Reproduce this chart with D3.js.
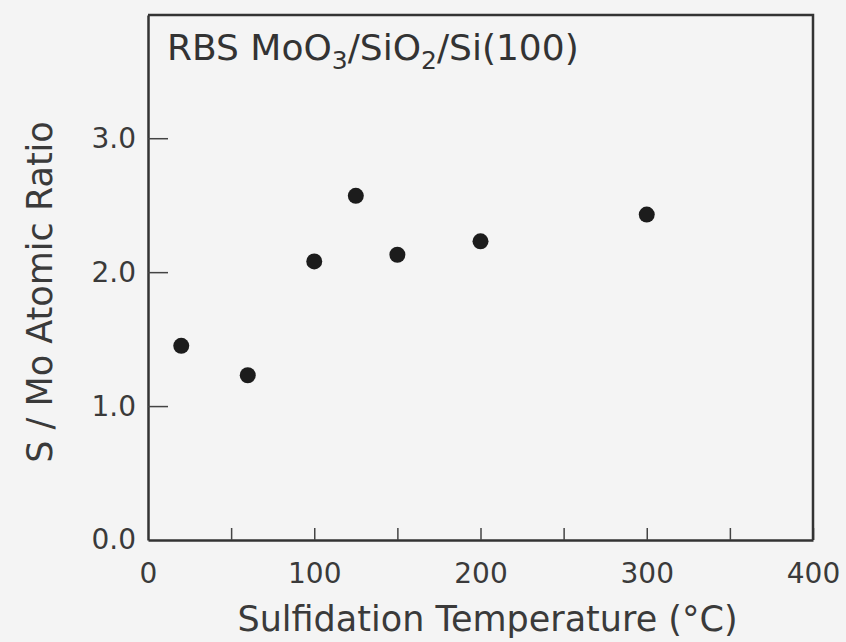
<!DOCTYPE html>
<html>
<head>
<meta charset="utf-8">
<script src="https://cdn.jsdelivr.net/npm/d3@7"></script>
<style>
  html, body { margin: 0; padding: 0; background: #f4f4f4; }
  svg { display: block; font-family: "DejaVu Sans", Verdana, sans-serif; }
</style>
</head>
<body>
<script>
// sulfidation temperature (°C) and S/Mo ratio
const temperatures = [20, 60, 100, 125, 150, 200, 300];
const ratios = [1.45, 1.23, 2.08, 2.57, 2.13, 2.23, 2.43];

const xTicks = [0, 50, 100, 150, 200, 250, 300, 350, 400];
const xLabels = [0, 100, 200, 300, 400];
const yTicks = [0, 1, 2, 3];

let width = 846, height = 642;
let margin = {top: 15, left: 148, right: 33, bottom: 102};
let svg, x, y;

setupSvg();
setupScales();
appendAxes();
appendFrame();
appendPoints();
appendLabels();

function setupSvg() {
  svg = d3.select("body").append("svg")
    .attr("width", width)
    .attr("height", height);
  svg.append("rect")
    .attr("width", width).attr("height", height)
    .attr("fill", "#f4f4f4");
}

function setupScales() {
  x = d3.scaleLinear()
    .domain([0, 400])
    .range([margin.left, width - margin.right]);
  // 0 -> 540 px, 1 unit ~ 134 px; top of frame sits a bit under 4
  y = d3.scaleLinear()
    .domain([0, 3.92])
    .range([height - margin.bottom, margin.top]);
}

function appendAxes() {
  let gx = svg.append("g")
    .attr("transform", `translate(0, ${y(0)})`)
    .call(d3.axisBottom(x)
      .tickValues(xTicks)
      .tickSize(-12)
      .tickSizeOuter(0)
      .tickPadding(23)
      .tickFormat(d => xLabels.includes(d) ? d : ""));

  let gy = svg.append("g")
    .attr("transform", `translate(${x(0)}, 0)`)
    .call(d3.axisLeft(y)
      .tickValues(yTicks)
      .tickSize(-20)
      .tickSizeOuter(0)
      .tickPadding(12)
      .tickFormat(d3.format(".1f")));

  [gx, gy].forEach(g => {
    g.select(".domain").attr("stroke", "#333").attr("stroke-width", 2.5);
    g.selectAll(".tick line").attr("stroke", "#444").attr("stroke-width", 1.5);
    g.selectAll(".tick text")
      .attr("fill", "#3a3a3a")
      .style("font-size", "28px")
      .style("font-family", '"DejaVu Sans", Verdana, sans-serif');
  });
  gy.selectAll(".tick").filter(d => d === 0).select("line").remove();
  gx.selectAll(".tick").filter(d => d === 0).select("line").remove();
}

function appendFrame() {
  // top and right edges of the box
  svg.append("path")
    .attr("d", `M${x(0)},${y.range()[1]} H${x(400)} V${y(0)}`)
    .attr("fill", "none")
    .attr("stroke", "#333")
    .attr("stroke-width", 2.5);
}

function appendPoints() {
  svg.selectAll("circle.pt")
    .data(temperatures)
    .enter()
    .append("circle")
    .attr("class", "pt")
    .attr("cx", d => x(d))
    .attr("cy", (d, i) => y(ratios[i]))
    .attr("r", 8)
    .attr("fill", "#1c1c1c");
}

function appendLabels() {
  // title inside the box
  let t = svg.append("text")
    .attr("x", 167)
    .attr("y", 60)
    .attr("fill", "#333")
    .style("font-size", "36px");
  t.append("tspan").text("RBS MoO");
  t.append("tspan").text("3").attr("dy", 9).style("font-size", "25px");
  t.append("tspan").text("/SiO").attr("dy", -9);
  t.append("tspan").text("2").attr("dy", 9).style("font-size", "25px");
  t.append("tspan").text("/Si(100)").attr("dy", -9);

  svg.append("text")
    .attr("x", (x(0) + x(400)) / 2 + 7)
    .attr("y", 631)
    .attr("text-anchor", "middle")
    .attr("fill", "#3a3a3a")
    .style("font-size", "35px")
    .text("Sulfidation Temperature (°C)");

  svg.append("text")
    .attr("transform", `translate(52, 292) rotate(-90)`)
    .attr("text-anchor", "middle")
    .attr("fill", "#3a3a3a")
    .style("font-size", "35px")
    .text("S / Mo Atomic Ratio");
}
</script>
</body>
</html>
